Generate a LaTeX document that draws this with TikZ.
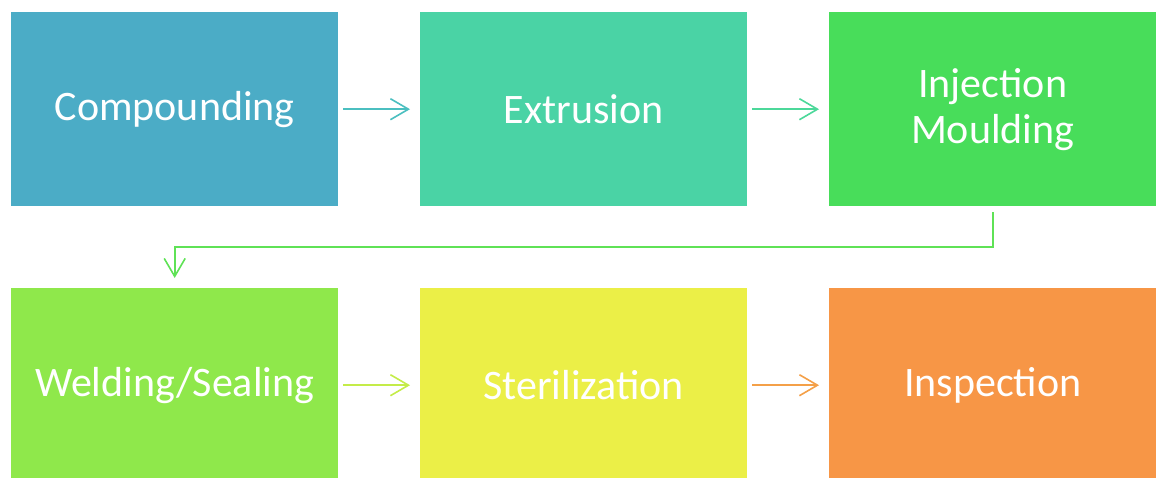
\documentclass[tikz,border=0pt]{standalone}
\usepackage{fontspec}
\setmainfont{Carlito}
\usetikzlibrary{arrows.meta}
\definecolor{cA}{HTML}{4BACC6}
\definecolor{cB}{HTML}{4AD3A5}
\definecolor{cC}{HTML}{48DD5A}
\definecolor{cD}{HTML}{8FE84B}
\definecolor{cE}{HTML}{EBEF47}
\definecolor{cF}{HTML}{F79646}
\definecolor{aA}{HTML}{4BBFC0}
\definecolor{aB}{HTML}{4CD89A}
\definecolor{aC}{HTML}{5FE256}
\definecolor{aD}{HTML}{C4EC49}
\definecolor{aE}{HTML}{F4A048}
\tikzset{
  procbox/.style={minimum width=327pt, minimum height=194pt, inner sep=0pt, text=white,
    font=\fontsize{42}{46}\selectfont, align=center, anchor=north west},
  flow/.style={line width=1.6pt, -{Straight Barb[length=18pt,width=21pt,line width=1.6pt]}}
}
\begin{document}
\begin{tikzpicture}[x=1pt,y=-1pt]
\useasboundingbox (0,0) rectangle (1159,477);
\node[procbox, fill=cA] (n1) at (11,12) {Compounding};
\node[procbox, fill=cB] (n2) at (420,12) {Extrusion};
\node[procbox, fill=cC] (n3) at (829,12) {Injection\\Moulding};
\node[procbox, fill=cD] (n4) at (11,288) {Welding/Sealing};
\node[procbox, fill=cE] (n5) at (420,288) {Sterilization};
\node[procbox, fill=cF] (n6) at (829,288) {Inspection};
\draw[flow, aA] ([xshift=5pt]n1.east) -- ([xshift=-10pt]n2.west);
\draw[flow, aB] ([xshift=5pt]n2.east) -- ([xshift=-10pt]n3.west);
\draw[flow, aD] ([xshift=5pt]n4.east) -- ([xshift=-10pt]n5.west);
\draw[flow, aE] ([xshift=5pt]n5.east) -- ([xshift=-10pt]n6.west);
\coordinate (c1) at ([yshift=-6pt]n3.south);
\coordinate (c2) at ([yshift=10pt]n4.north);
\draw[flow, aC] (c1) -- (c1 |- 0,247) -- (c2 |- 0,247) -- (c2);
\end{tikzpicture}
\end{document}
